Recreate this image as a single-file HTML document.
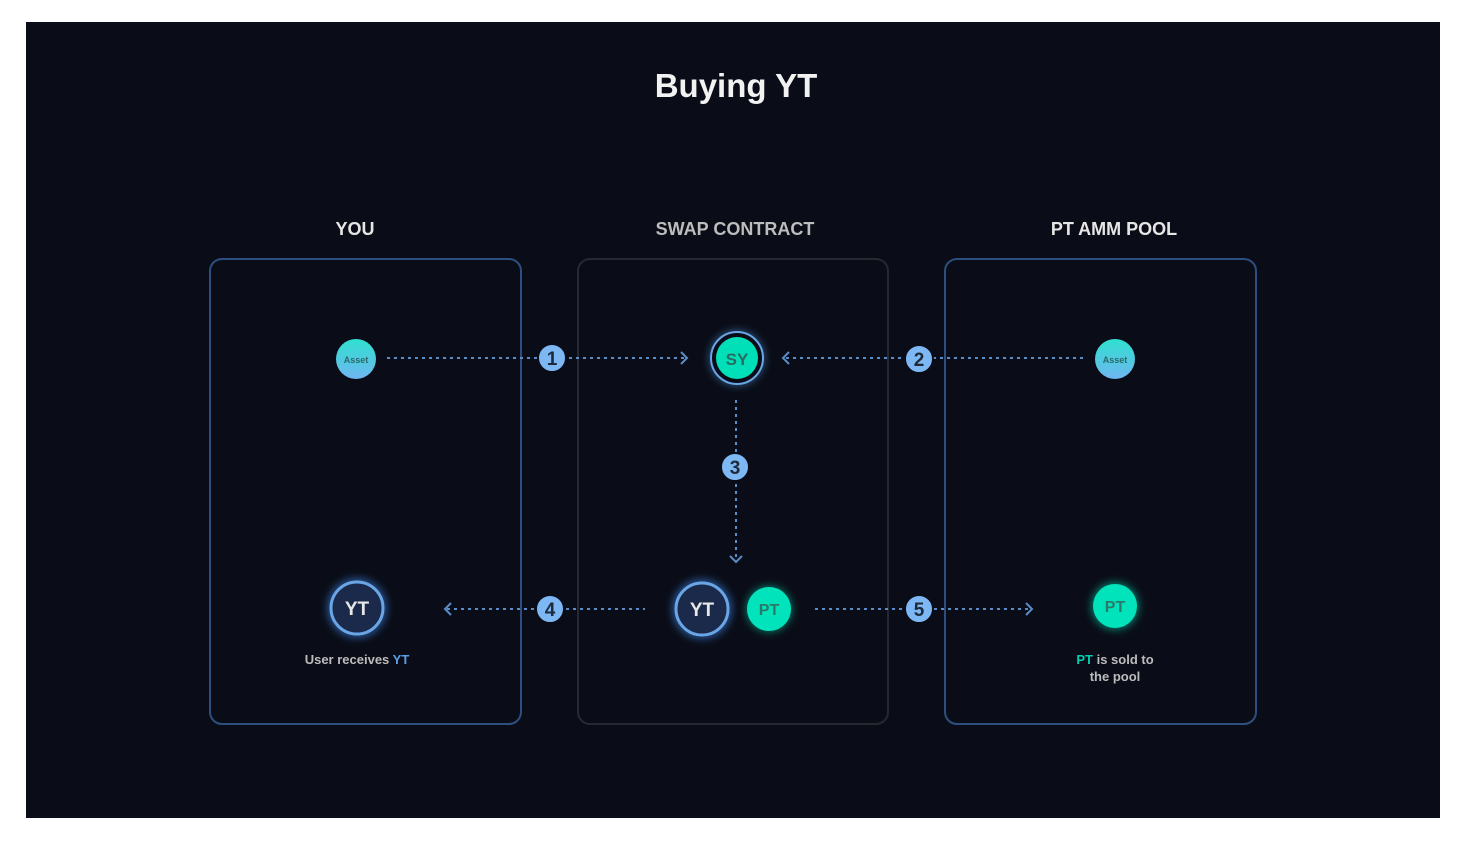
<!DOCTYPE html>
<html><head><style>
html,body{margin:0;padding:0;background:#fff;width:1470px;height:850px;overflow:hidden}
svg{display:block}
text{font-family:"Liberation Sans",sans-serif;font-weight:bold}
</style></head><body>
<svg width="1470" height="850" viewBox="0 0 1470 850">
<defs>
<filter id="glow" x="-50%" y="-50%" width="200%" height="200%"><feGaussianBlur stdDeviation="4"/></filter>
<linearGradient id="ag" x1="0" y1="0" x2="0" y2="1"><stop offset="0" stop-color="#2fe0cf"/><stop offset="1" stop-color="#6fb6f0"/></linearGradient>
</defs>
<rect x="26" y="22" width="1414" height="796" fill="#0a0d17"/>
<text x="736" y="97" fill="#f2f2f2" font-size="33" text-anchor="middle">Buying YT</text>
<text x="355" y="235" fill="#e6e6e6" font-size="18" text-anchor="middle">YOU</text>
<text x="735" y="235" fill="#bdbdbd" font-size="18" text-anchor="middle">SWAP CONTRACT</text>
<text x="1114" y="235" fill="#e6e6e6" font-size="18" text-anchor="middle">PT AMM POOL</text>
<rect x="210" y="259" width="311" height="465" rx="12" fill="none" stroke="#2c4f7e" stroke-width="2"/>
<rect x="578" y="259" width="310" height="465" rx="12" fill="none" stroke="#26292f" stroke-width="2"/>
<rect x="945" y="259" width="311" height="465" rx="12" fill="none" stroke="#2c4f7e" stroke-width="2"/>
<g stroke="#5a8cc8" stroke-width="2" stroke-dasharray="3 4" fill="none">
<line x1="387" y1="358" x2="686" y2="358"/>
<line x1="786" y1="358" x2="1085" y2="358"/>
<line x1="736" y1="400" x2="736" y2="560"/>
<line x1="447" y1="609" x2="645" y2="609"/>
<line x1="815" y1="609" x2="1030" y2="609"/>
</g>
<g stroke="#5a8cc8" stroke-width="2" fill="none">
<polyline points="681,352 687,358 681,364"/>
<polyline points="789,352 783,358 789,364"/>
<polyline points="730,556 736,562 742,556"/>
<polyline points="451,603 445,609 451,615"/>
<polyline points="1026,603 1032,609 1026,615"/>
</g>
<g font-size="19" text-anchor="middle" fill="#1e2a3a">
<circle cx="552" cy="358" r="14" fill="#7db8f5" stroke="#0a0d17" stroke-width="2"/><text x="552" y="365">1</text>
<circle cx="919" cy="359" r="14" fill="#7db8f5" stroke="#0a0d17" stroke-width="2"/><text x="919" y="366">2</text>
<circle cx="735" cy="467" r="14" fill="#7db8f5" stroke="#0a0d17" stroke-width="2"/><text x="735" y="474">3</text>
<circle cx="550" cy="609" r="14" fill="#7db8f5" stroke="#0a0d17" stroke-width="2"/><text x="550" y="616">4</text>
<circle cx="919" cy="609" r="14" fill="#7db8f5" stroke="#0a0d17" stroke-width="2"/><text x="919" y="616">5</text>
</g>
<circle cx="356" cy="359" r="20" fill="url(#ag)"/>
<text x="356" y="363" font-size="9" fill="#2a6a6a" text-anchor="middle">Asset</text>
<circle cx="1115" cy="359" r="20" fill="url(#ag)"/>
<text x="1115" y="363" font-size="9" fill="#2a6a6a" text-anchor="middle">Asset</text>
<circle cx="737" cy="358" r="28" fill="#4a90e0" opacity="0.5" filter="url(#glow)"/>
<circle cx="737" cy="358" r="26" fill="#0a0d17" stroke="#6aa6e6" stroke-width="2"/>
<circle cx="737" cy="358" r="21" fill="#00e0b8"/>
<text x="737" y="365" font-size="17" fill="#2a6a60" text-anchor="middle">SY</text>
<circle cx="357" cy="608" r="30" fill="#3a80e0" opacity="0.6" filter="url(#glow)"/>
<circle cx="357" cy="608" r="26" fill="#1b2a4a" stroke="#6aa6e6" stroke-width="3"/>
<text x="357" y="615" font-size="19" fill="#e8e8e8" text-anchor="middle">YT</text>
<circle cx="702" cy="609" r="30" fill="#3a80e0" opacity="0.6" filter="url(#glow)"/>
<circle cx="702" cy="609" r="26" fill="#1b2a4a" stroke="#6aa6e6" stroke-width="3"/>
<text x="702" y="616" font-size="19" fill="#e8e8e8" text-anchor="middle">YT</text>
<circle cx="769" cy="609" r="23" fill="#00e0b8" opacity="0.5" filter="url(#glow)"/>
<circle cx="769" cy="609" r="22" fill="#00e3bb"/>
<text x="769" y="615" font-size="16" fill="#2a7a6a" text-anchor="middle">PT</text>
<circle cx="1115" cy="606" r="24" fill="#00e0b8" opacity="0.5" filter="url(#glow)"/>
<circle cx="1115" cy="606" r="22" fill="#00e3bb"/>
<text x="1115" y="612" font-size="16" fill="#2a7a6a" text-anchor="middle">PT</text>
<text x="357" y="664" font-size="13" fill="#bcbcbc" text-anchor="middle">User receives <tspan fill="#5aa0e8">YT</tspan></text>
<text x="1115" y="664" font-size="13" fill="#bcbcbc" text-anchor="middle"><tspan fill="#00d0ad">PT</tspan> is sold to</text>
<text x="1115" y="681" font-size="13" fill="#bcbcbc" text-anchor="middle">the pool</text>
</svg>
</body></html>
